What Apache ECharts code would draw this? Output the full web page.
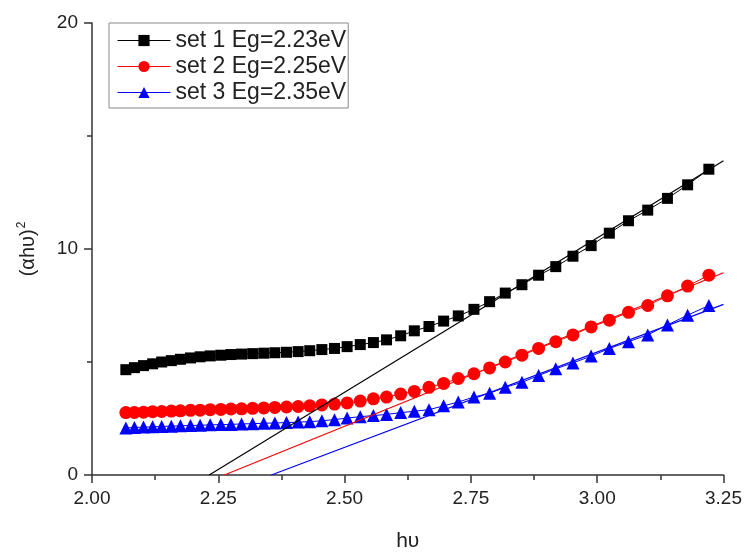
<!DOCTYPE html>
<html>
<head>
<meta charset="utf-8">
<script src="https://cdn.jsdelivr.net/npm/echarts@6/dist/echarts.min.js"></script>
<style>
  html, body { margin: 0; padding: 0; background: #fff; }
  #chart { width: 745px; height: 557px; }
</style>
</head>
<body>
<div id="chart"></div>
<script>
// photon energy hν (eV) of each measured point
const energy = [2.067, 2.084, 2.102, 2.120, 2.138, 2.157, 2.175, 2.195, 2.214, 2.234,
  2.255, 2.275, 2.296, 2.318, 2.340, 2.362, 2.385, 2.408, 2.431, 2.455,
  2.480, 2.505, 2.531, 2.557, 2.583, 2.611, 2.638, 2.667, 2.696, 2.725,
  2.756, 2.787, 2.818, 2.851, 2.884, 2.918, 2.952, 2.988, 3.024, 3.062,
  3.100, 3.139, 3.179, 3.221]

// (αhν)^2 of each set
const set1 = [4.66, 4.75, 4.84, 4.92, 5.00, 5.06, 5.12, 5.18, 5.23, 5.27,
  5.30, 5.33, 5.35, 5.37, 5.39, 5.41, 5.43, 5.46, 5.50, 5.55,
  5.60, 5.68, 5.77, 5.86, 5.98, 6.16, 6.38, 6.57, 6.81, 7.04,
  7.33, 7.67, 8.05, 8.42, 8.84, 9.22, 9.68, 10.15, 10.70, 11.25,
  11.72, 12.24, 12.84, 13.53]
const set2 = [2.76, 2.77, 2.78, 2.80, 2.81, 2.83, 2.84, 2.86, 2.87, 2.89,
  2.90, 2.92, 2.93, 2.95, 2.97, 2.99, 3.01, 3.03, 3.06, 3.10,
  3.14, 3.19, 3.27, 3.37, 3.45, 3.58, 3.70, 3.88, 4.05, 4.27,
  4.48, 4.74, 5.00, 5.30, 5.60, 5.90, 6.20, 6.55, 6.85, 7.20,
  7.50, 7.93, 8.36, 8.84]
const set3 = [2.08, 2.10, 2.12, 2.13, 2.15, 2.16, 2.18, 2.19, 2.20, 2.22,
  2.23, 2.24, 2.26, 2.27, 2.29, 2.30, 2.32, 2.34, 2.36, 2.40,
  2.45, 2.52, 2.58, 2.63, 2.68, 2.76, 2.82, 2.89, 3.06, 3.23,
  3.45, 3.62, 3.88, 4.10, 4.40, 4.70, 4.96, 5.26, 5.60, 5.90,
  6.20, 6.64, 7.07, 7.50]

// linear fit lines (start at the band gap, end at the right edge)
const fit1X = [2.232, 3.25]
const fit1Y = [0, 13.9]
const fit2X = [2.262, 3.25]
const fit2Y = [0, 8.95]
const fit3X = [2.355, 3.25]
const fit3Y = [0, 7.55]

const names = ['set 1 Eg=2.23eV', 'set 2 Eg=2.25eV', 'set 3 Eg=2.35eV']

const pairs = (xs, ys) => xs.map((x, i) => [x, ys[i]])

const font = "'Liberation Sans', Arial, sans-serif"

const chart = echarts.init(document.getElementById('chart'))

function dataSeries(name, values, color, symbol, size) {
  return {
    name: name,
    type: 'line',
    data: pairs(energy, values),
    symbol: symbol,
    symbolSize: size,
    showAllSymbol: true,
    lineStyle: { color: color, width: 1 },
    itemStyle: { color: color },
    z: 3
  }
}

function fitSeries(xs, ys, color) {
  return {
    type: 'line',
    data: pairs(xs, ys),
    symbol: 'none',
    lineStyle: { color: color, width: 1.2 },
    z: 4,
    silent: true
  }
}

const axisColor = '#333'

chart.setOption({
  animation: false,
  textStyle: { fontFamily: font },
  grid: { left: 92, right: 20, top: 23, bottom: 70 },
  legend: {
    data: names,
    orient: 'vertical',
    left: 109,
    top: 23,
    padding: [6, 2, 4, 8],
    itemGap: 3,
    itemWidth: 53,
    itemHeight: 14,
    lineStyle: { width: 1 },
    borderColor: '#8a8a8a',
    borderWidth: 1,
    textStyle: { fontSize: 23, color: '#222', fontFamily: font }
  },
  xAxis: {
    type: 'value',
    min: 2,
    max: 3.25,
    interval: 0.25,
    name: 'hυ',
    nameLocation: 'middle',
    nameGap: 56,
    nameTextStyle: { fontSize: 21, color: '#222', fontFamily: font },
    axisLine: { lineStyle: { color: axisColor, width: 1.5 } },
    axisTick: { length: 8, lineStyle: { color: axisColor, width: 1.5 } },
    minorTick: { show: true, splitNumber: 2, length: 5, lineStyle: { color: axisColor, width: 1.5 } },
    axisLabel: { fontSize: 19, color: '#222', margin: 14, fontFamily: font, formatter: v => v.toFixed(2) },
    splitLine: { show: false }
  },
  yAxis: {
    type: 'value',
    min: 0,
    max: 20,
    interval: 10,
    name: '{b|(αhυ)}{sup|2}',
    nameLocation: 'middle',
    nameRotate: 90,
    nameGap: 52,
    nameTextStyle: {
      fontSize: 20, color: '#222',
      rich: {
        b: { fontSize: 20, color: '#222', fontFamily: font },
        sup: { fontSize: 12, color: '#222', fontFamily: font, verticalAlign: 'top', padding: [0, 0, 12, 1] }
      }
    },
    axisLine: { show: true, lineStyle: { color: axisColor, width: 1.5 } },
    axisTick: { length: 8, lineStyle: { color: axisColor, width: 1.5 } },
    minorTick: { show: true, splitNumber: 2, length: 5, lineStyle: { color: axisColor, width: 1.5 } },
    axisLabel: { fontSize: 19, color: '#222', margin: 14, fontFamily: font },
    splitLine: { show: false }
  },
  series: [
    dataSeries(names[0], set1, '#000000', 'rect', 11),
    dataSeries(names[1], set2, '#ff0000', 'circle', 13),
    dataSeries(names[2], set3, '#0000ff', 'triangle', 13),
    fitSeries(fit1X, fit1Y, '#000000'),
    fitSeries(fit2X, fit2Y, '#ff0000'),
    fitSeries(fit3X, fit3Y, '#0000ff')
  ]
})
</script>
</body>
</html>
